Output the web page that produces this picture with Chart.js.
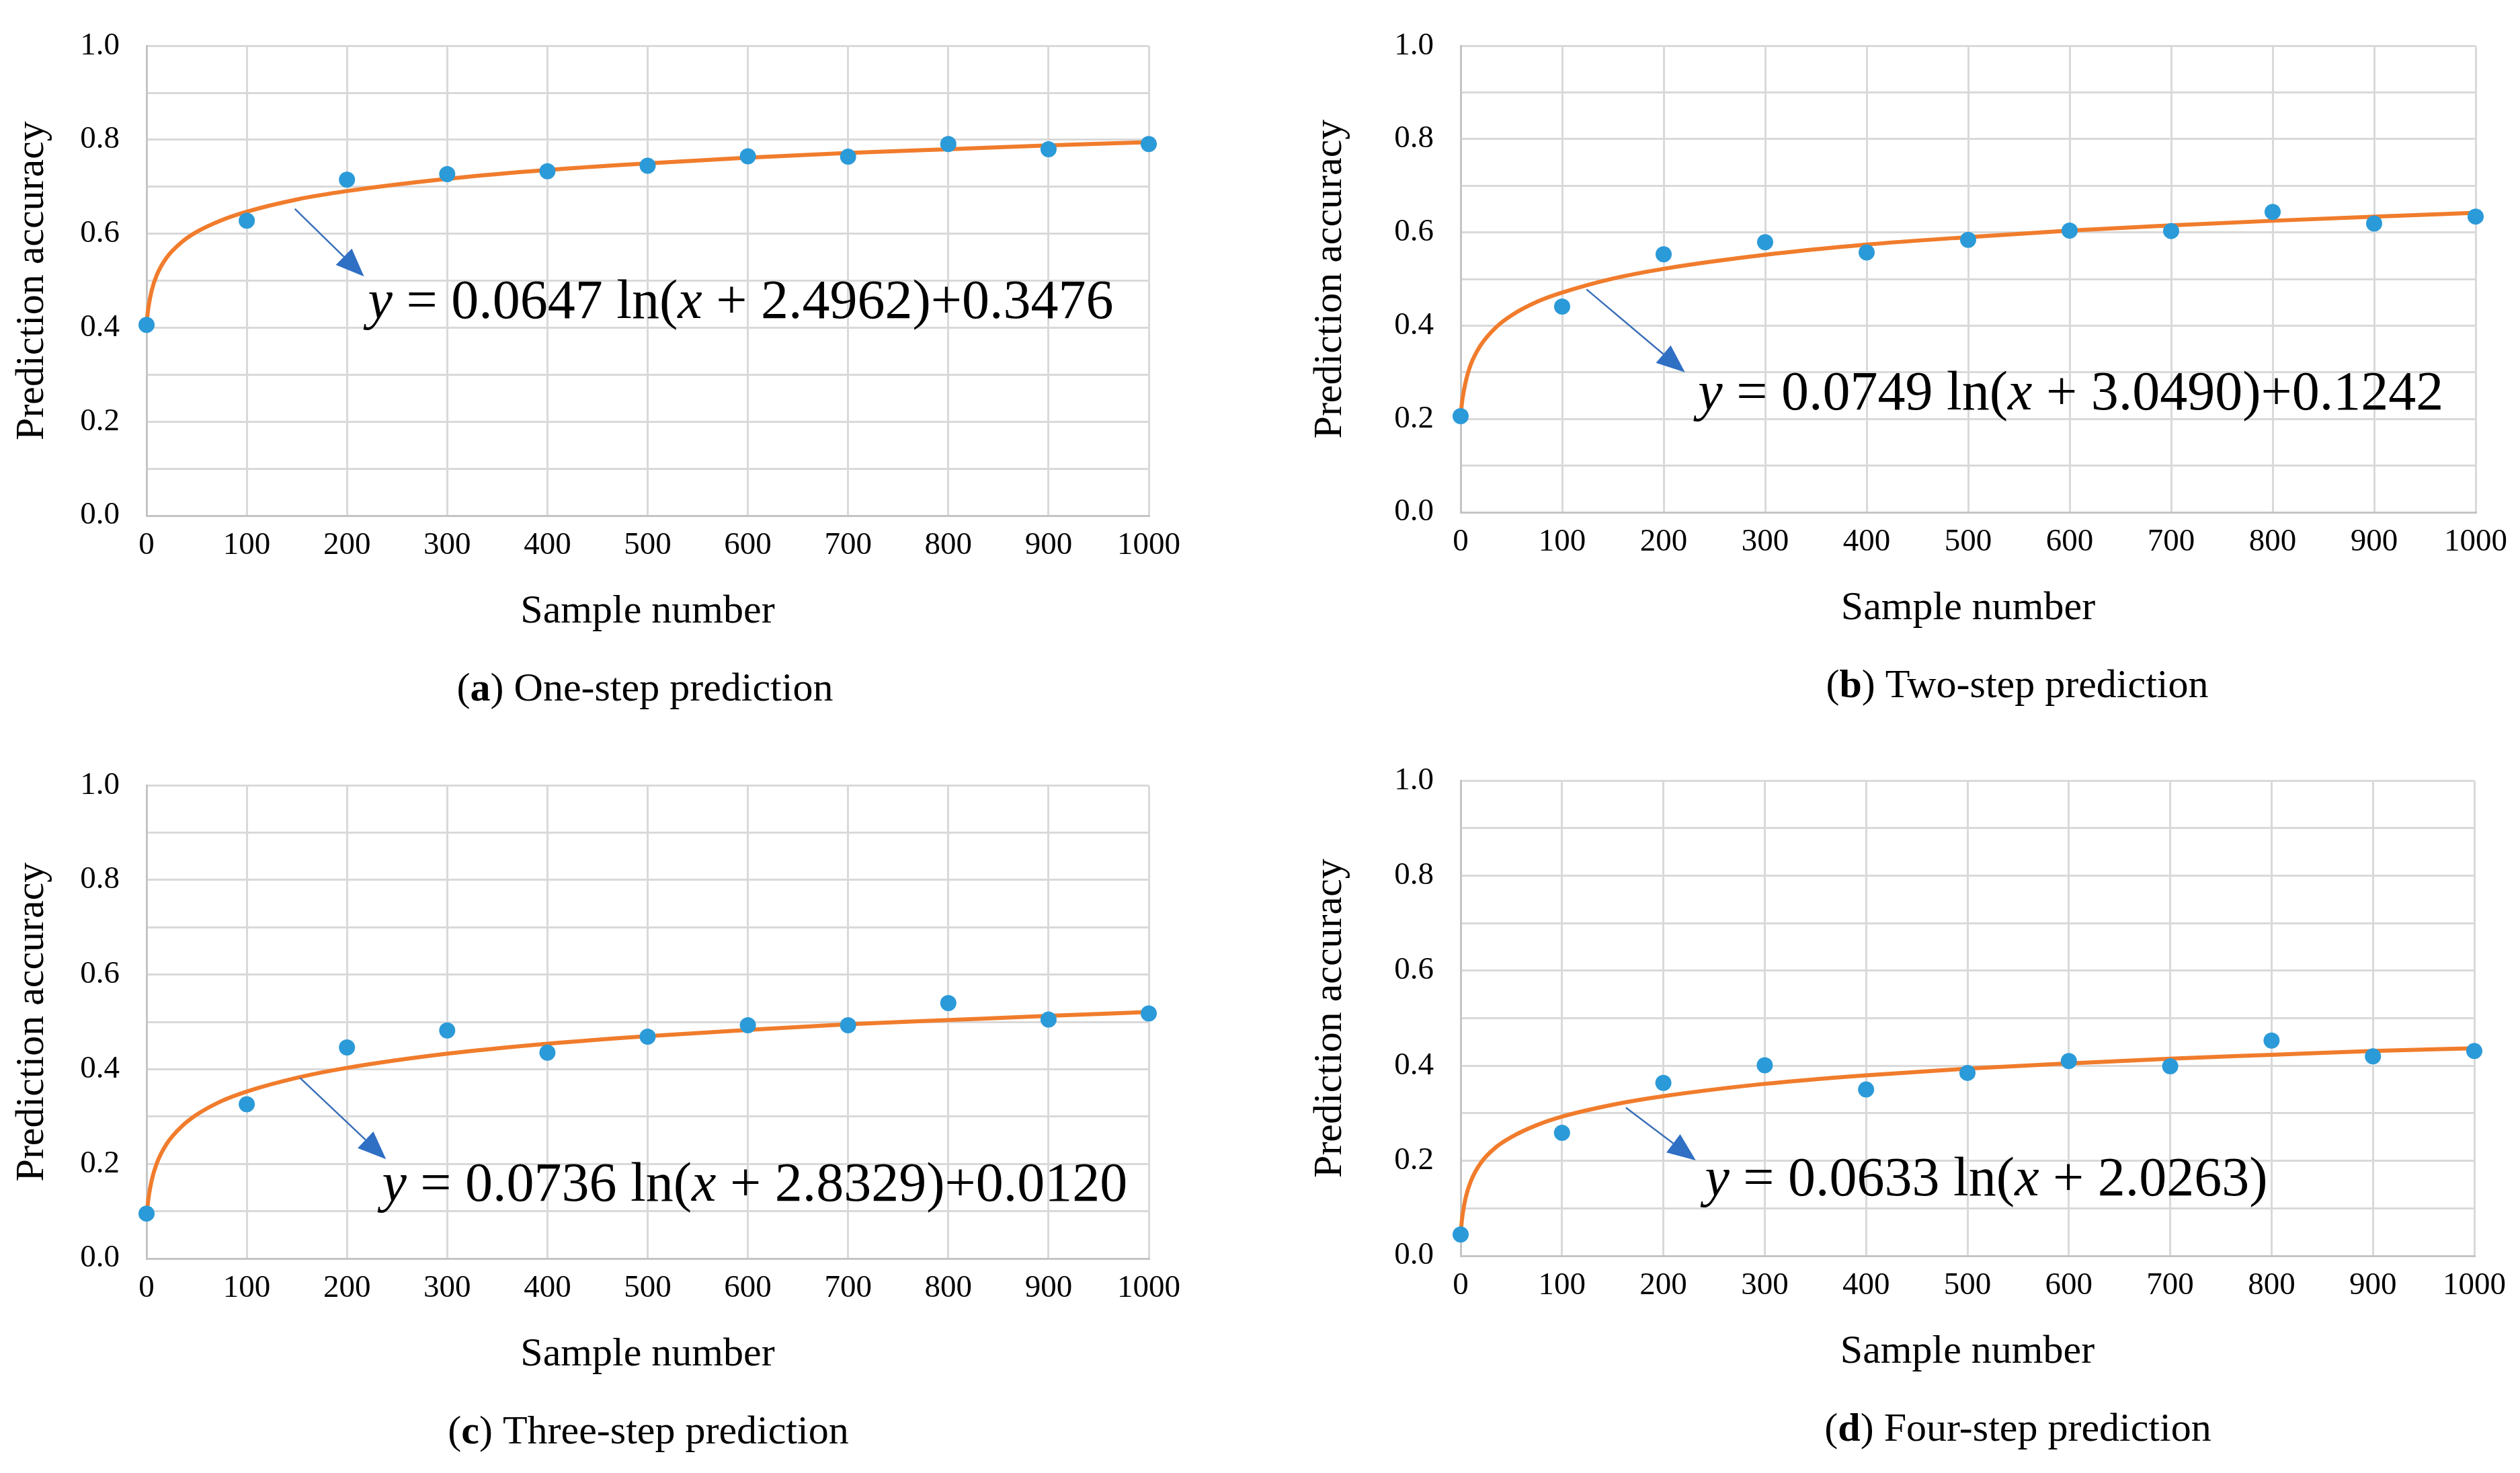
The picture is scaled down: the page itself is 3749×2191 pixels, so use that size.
<!DOCTYPE html>
<html><head><meta charset="utf-8">
<script src="https://cdn.jsdelivr.net/npm/chart.js@4.4.0/dist/chart.umd.min.js"></script>
<style>
html,body{margin:0;padding:0;background:#fff;width:3749px;height:2191px;overflow:hidden;position:relative}
canvas{position:absolute}
</style>
</head><body>
<canvas id="ca"></canvas><canvas id="cb"></canvas><canvas id="cc"></canvas><canvas id="cd"></canvas>
<script>
// ---- data ----
const sampleNumbers = [0,100,200,300,400,500,600,700,800,900,1000];
const accuracyOneStep   = [0.406,0.628,0.715,0.727,0.733,0.745,0.765,0.764,0.791,0.780,0.791];
const accuracyTwoStep   = [0.206,0.441,0.553,0.579,0.557,0.584,0.604,0.603,0.644,0.619,0.634];
const accuracyThreeStep = [0.095,0.326,0.446,0.482,0.435,0.469,0.493,0.493,0.540,0.505,0.518];
const accuracyFourStep  = [0.045,0.259,0.364,0.401,0.350,0.385,0.410,0.399,0.453,0.420,0.431];

// trend line (log fit) values
const trendX = [0,1,2,5,10,20,35,50,75,100,150,200,300,400,500,600,700,800,900,1000];
const trendOneStep   = [0.407,0.429,0.445,0.478,0.511,0.549,0.582,0.604,0.629,0.647,0.673,0.691,0.717,0.736,0.750,0.762,0.772,0.780,0.788,0.795];
const trendTwoStep   = [0.208,0.229,0.246,0.280,0.317,0.359,0.397,0.422,0.451,0.471,0.501,0.522,0.552,0.574,0.590,0.604,0.615,0.625,0.634,0.642];
const trendThreeStep = [0.089,0.111,0.128,0.164,0.200,0.242,0.279,0.304,0.333,0.353,0.382,0.403,0.433,0.454,0.470,0.483,0.495,0.504,0.513,0.521];
const trendFourStep  = [0.045,0.070,0.088,0.123,0.157,0.196,0.229,0.250,0.275,0.293,0.318,0.336,0.362,0.380,0.394,0.405,0.415,0.423,0.431,0.437];

const xTickLabels = ['0','100','200','300','400','500','600','700','800','900','1000'];
const yTickLabels = ['0.0','','0.2','','0.4','','0.6','','0.8','','1.0'];
const xAxisTitle = 'Sample number';
const yAxisTitle = 'Prediction accuracy';
const captionLetters = ['a','b','c','d'];
const captionTexts = ['One-step prediction','Two-step prediction','Three-step prediction','Four-step prediction'];

// equations: even parts italic
const equationOneStep   = ['y',' = 0.0647 ln(','x',' + 2.4962)+0.3476'];
const equationTwoStep   = ['y',' = 0.0749 ln(','x',' + 3.0490)+0.1242'];
const equationThreeStep = ['y',' = 0.0736 ln(','x',' + 2.8329)+0.0120'];
const equationFourStep  = ['y',' = 0.0633 ln(','x',' + 2.0263)'];
// annotation anchors in data units [x, y]
const equationAnchors = [[221,0.451],[234,0.251],[235,0.153],[241,0.158]];
const arrowStarts = [[148,0.653],[124,0.478],[153,0.382],[163,0.312]];
const arrowEnds   = [[217,0.509],[221,0.300],[239,0.210],[232,0.201]];

// ---- drawing ----
const FONT = "'Liberation Serif','Times New Roman',serif";
Chart.defaults.font.family = FONT;
Chart.defaults.color = '#000';

const decor = {
  id: 'panelDecor',
  afterDatasetsDraw(chart, args, o) {
    const {ctx} = chart; const xs = chart.scales.x, ys = chart.scales.y;
    const x1 = xs.getPixelForValue(o.arrowFrom[0]), y1 = ys.getPixelForValue(o.arrowFrom[1]);
    const x2 = xs.getPixelForValue(o.arrowTo[0]), y2 = ys.getPixelForValue(o.arrowTo[1]);
    const ang = Math.atan2(y2 - y1, x2 - x1), L = 42, HW = 17;
    const bx = x2 - L*Math.cos(ang), by = y2 - L*Math.sin(ang);
    ctx.save();
    ctx.strokeStyle = '#3A6FB8'; ctx.lineWidth = 2.5;
    ctx.beginPath(); ctx.moveTo(x1, y1); ctx.lineTo(bx, by); ctx.stroke();
    ctx.fillStyle = '#2F6FC4';
    ctx.beginPath(); ctx.moveTo(x2, y2);
    ctx.lineTo(bx + HW*Math.sin(ang), by - HW*Math.cos(ang));
    ctx.lineTo(bx - HW*Math.sin(ang), by + HW*Math.cos(ang));
    ctx.closePath(); ctx.fill();
    // equation
    let cx = xs.getPixelForValue(o.eqAt[0]); const cy = ys.getPixelForValue(o.eqAt[1]);
    ctx.fillStyle = '#000'; ctx.textBaseline = 'middle'; ctx.textAlign = 'left';
    o.equation.forEach((p, i) => {
      ctx.font = (i % 2 === 0 ? 'italic ' : '') + '82px ' + FONT;
      ctx.fillText(p, cx, cy); cx += ctx.measureText(p).width;
    });
    ctx.restore();
  },
  afterDraw(chart, args, o) {
    const {ctx, chartArea} = chart;
    const parts = [['(', ''], [o.letter, 'bold '], [') ' + o.caption, '']];
    ctx.save(); ctx.fillStyle = '#000'; ctx.textBaseline = 'middle'; ctx.textAlign = 'left';
    let total = 0;
    parts.forEach(p => { ctx.font = p[1] + '60px ' + FONT; total += ctx.measureText(p[0]).width; });
    let cx = (chartArea.left + chartArea.right)/2 + o.shift - total/2;
    const cy = chartArea.bottom + 259;
    parts.forEach(p => { ctx.font = p[1] + '60px ' + FONT; ctx.fillText(p[0], cx, cy); cx += ctx.measureText(p[0]).width; });
    ctx.restore();
  }
};

function makePanel(cfg) {
  const cv = document.getElementById(cfg.id);
  const [l, t, r, b] = cfg.plot;
  const left = l - cfg.W - 10, top = t - 50;
  const width = r + 170 - left, height = b + 350 - top;
  cv.width = width; cv.height = height;
  Object.assign(cv.style, {left: left + 'px', top: top + 'px', width: width + 'px', height: height + 'px'});
  const gridOpt = {color: '#D9D9D9', lineWidth: 3, drawTicks: false};
  const borderOpt = {color: '#C4C4C4', width: 3};
  new Chart(cv, {
    type: 'line',
    data: {datasets: [
      {type: 'scatter', data: cfg.acc.map((v, i) => ({x: sampleNumbers[i], y: v})),
       backgroundColor: '#2B9AD8', borderColor: '#2B9AD8', pointRadius: 12, pointBorderWidth: 0,
       showLine: false, order: 0, clip: false},
      {type: 'line', data: cfg.fit.map((v, i) => ({x: trendX[i], y: v})),
       borderColor: '#F07C2C', borderWidth: 6, pointRadius: 0, cubicInterpolationMode: 'monotone',
       fill: false, order: 1, clip: false}
    ]},
    options: {
      responsive: false, devicePixelRatio: 1, animation: false,
      layout: {padding: {left: 10, top: 50, right: 170, bottom: 150}, autoPadding: false},
      plugins: {legend: {display: false}, tooltip: {enabled: false},
        panelDecor: {arrowFrom: cfg.arrowFrom, arrowTo: cfg.arrowTo, eqAt: cfg.eqAt, equation: cfg.equation,
                     letter: cfg.letter, caption: cfg.caption, shift: cfg.shift}},
      scales: {
        x: {type: 'linear', min: 0, max: 1000,
            ticks: {stepSize: 100, padding: 16, color: '#000', font: {size: 47}, maxRotation: 0, autoSkip: false,
                    callback: (v, i) => xTickLabels[i]},
            grid: gridOpt, border: borderOpt,
            title: {display: true, text: xAxisTitle, color: '#000', font: {size: 60}, padding: {top: 0, bottom: 21}},
            afterFit: s => { s.height = 200; }},
        y: {type: 'linear', min: 0, max: 1,
            ticks: {stepSize: 0.1, padding: 40, color: '#000', font: {size: 47}, autoSkip: false,
                    callback: (v, i) => yTickLabels[i]},
            grid: gridOpt, border: borderOpt,
            title: {display: true, text: yAxisTitle, color: '#000', font: {size: 60}, padding: {top: 10, bottom: 0}},
            afterFit: s => { s.width = cfg.W; }}
      }
    },
    plugins: [decor]
  });
}

makePanel({id: 'ca', plot: [218, 50, 1709, 767], W: 216, acc: accuracyOneStep, fit: trendOneStep,
  equation: equationOneStep, eqAt: equationAnchors[0], arrowFrom: arrowStarts[0], arrowTo: arrowEnds[0],
  letter: captionLetters[0], caption: captionTexts[0], shift: -4});
makePanel({id: 'cb', plot: [2173, 50, 3683, 762], W: 240, acc: accuracyTwoStep, fit: trendTwoStep,
  equation: equationTwoStep, eqAt: equationAnchors[1], arrowFrom: arrowStarts[1], arrowTo: arrowEnds[1],
  letter: captionLetters[1], caption: captionTexts[1], shift: 73});
makePanel({id: 'cc', plot: [218, 1150, 1709, 1872], W: 216, acc: accuracyThreeStep, fit: trendThreeStep,
  equation: equationThreeStep, eqAt: equationAnchors[2], arrowFrom: arrowStarts[2], arrowTo: arrowEnds[2],
  letter: captionLetters[2], caption: captionTexts[2], shift: 1});
makePanel({id: 'cd', plot: [2173, 1143, 3681, 1868], W: 240, acc: accuracyFourStep, fit: trendFourStep,
  equation: equationFourStep, eqAt: equationAnchors[3], arrowFrom: arrowStarts[3], arrowTo: arrowEnds[3],
  letter: captionLetters[3], caption: captionTexts[3], shift: 75});
</script>
</body></html>
